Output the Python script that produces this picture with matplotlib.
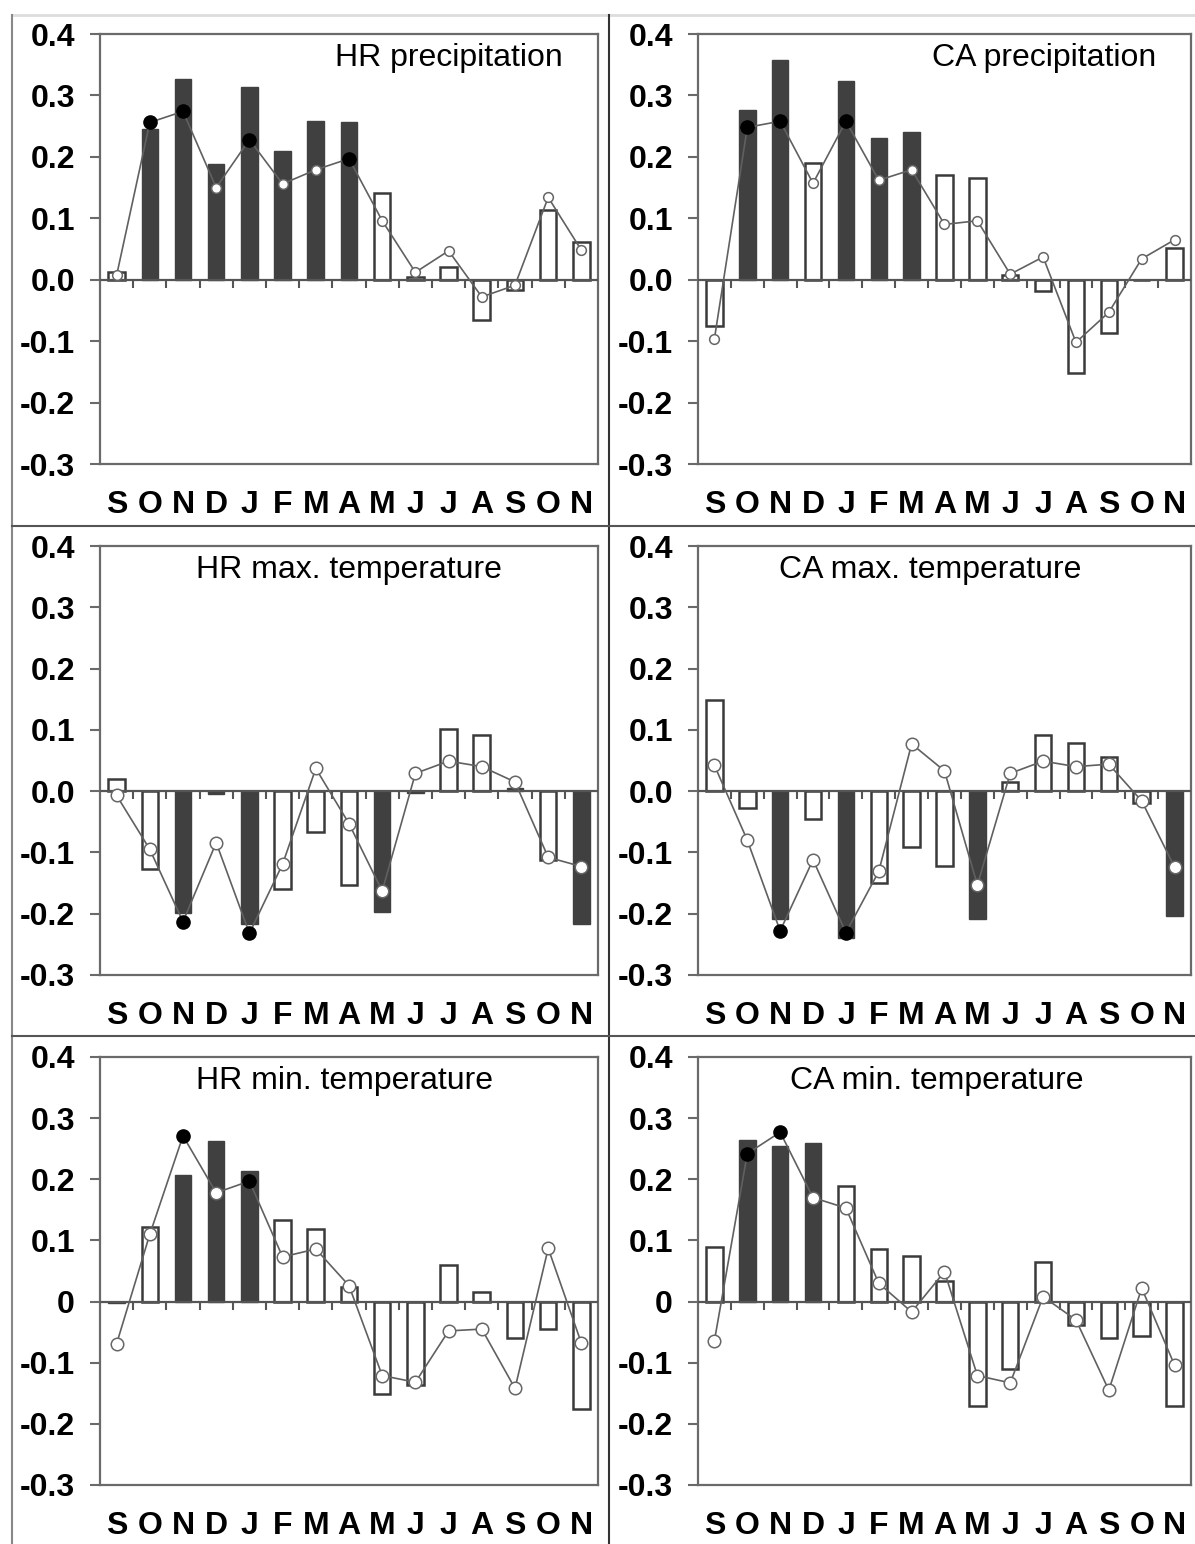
import numpy as np
import matplotlib
matplotlib.use('Agg')
import matplotlib.pyplot as plt
from matplotlib.lines import Line2D

plt.rcParams['font.family'] = ['Liberation Sans', 'DejaVu Sans']

months = ['S', 'O', 'N', 'D', 'J', 'F', 'M', 'A', 'M', 'J', 'J', 'A', 'S', 'O', 'N']

# bar values and line (circle) values per panel
hr_pre_bar = [0.012, 0.245, 0.327, 0.189, 0.314, 0.209, 0.258, 0.256, 0.141, 0.005, 0.021, -0.066, -0.017, 0.114, 0.061]
hr_pre_pt  = [0.007, 0.256, 0.274, 0.150, 0.228, 0.156, 0.179, 0.197, 0.096, 0.012, 0.047, -0.028, -0.009, 0.134, 0.048]
hr_pre_bar_sig = [0, 1, 1, 1, 1, 1, 1, 1, 0, 0, 0, 0, 0, 0, 0]
hr_pre_pt_sig  = [0, 1, 1, 0, 1, 0, 0, 1, 0, 0, 0, 0, 0, 0, 0]

ca_pre_bar = [-0.076, 0.277, 0.358, 0.190, 0.324, 0.231, 0.240, 0.171, 0.166, 0.008, -0.018, -0.152, -0.086, 0.0, 0.052]
ca_pre_pt  = [-0.096, 0.248, 0.258, 0.157, 0.258, 0.162, 0.179, 0.090, 0.096, 0.009, 0.037, -0.102, -0.053, 0.034, 0.065]
ca_pre_bar_sig = [0, 1, 1, 0, 1, 1, 1, 0, 0, 0, 0, 0, 0, 0, 0]
ca_pre_pt_sig  = [0, 1, 1, 0, 1, 0, 0, 0, 0, 0, 0, 0, 0, 0, 0]

hr_tmax_bar = [0.019, -0.127, -0.199, -0.004, -0.216, -0.160, -0.066, -0.153, -0.198, -0.003, 0.101, 0.092, 0.005, -0.112, -0.217]
hr_tmax_pt  = [-0.007, -0.095, -0.213, -0.084, -0.232, -0.119, 0.037, -0.053, -0.163, 0.029, 0.049, 0.040, 0.015, -0.108, -0.123]
hr_tmax_bar_sig = [0, 0, 1, 1, 1, 0, 0, 0, 1, 1, 0, 0, 1, 0, 1]
hr_tmax_pt_sig  = [0, 0, 1, 0, 1, 0, 0, 0, 0, 0, 0, 0, 0, 0, 0]

ca_tmax_bar = [0.149, -0.027, -0.208, -0.045, -0.240, -0.150, -0.091, -0.122, -0.208, 0.015, 0.092, 0.079, 0.056, -0.019, -0.203]
ca_tmax_pt  = [0.042, -0.080, -0.228, -0.112, -0.231, -0.131, 0.077, 0.033, -0.153, 0.029, 0.049, 0.040, 0.044, -0.016, -0.124]
ca_tmax_bar_sig = [0, 0, 1, 0, 1, 0, 0, 0, 1, 0, 0, 0, 0, 0, 1]
ca_tmax_pt_sig  = [0, 0, 1, 0, 1, 0, 0, 0, 0, 0, 0, 0, 0, 0, 0]

hr_tmin_bar = [-0.003, 0.122, 0.207, 0.262, 0.214, 0.134, 0.118, 0.024, -0.151, -0.137, 0.059, 0.016, -0.060, -0.045, -0.176]
hr_tmin_pt  = [-0.069, 0.110, 0.271, 0.178, 0.197, 0.073, 0.086, 0.026, -0.121, -0.132, -0.048, -0.045, -0.142, 0.087, -0.068]
hr_tmin_bar_sig = [1, 0, 1, 1, 1, 0, 0, 0, 0, 0, 0, 0, 0, 0, 0]
hr_tmin_pt_sig  = [0, 0, 1, 0, 1, 0, 0, 0, 0, 0, 0, 0, 0, 0, 0]

ca_tmin_bar = [0.090, 0.265, 0.254, 0.260, 0.189, 0.086, 0.075, 0.033, -0.171, -0.111, 0.065, -0.038, -0.060, -0.056, -0.171]
ca_tmin_pt  = [-0.064, 0.242, 0.277, 0.170, 0.153, 0.030, -0.017, 0.049, -0.121, -0.133, 0.008, -0.030, -0.145, 0.022, -0.104]
ca_tmin_bar_sig = [0, 1, 1, 1, 0, 0, 0, 0, 0, 0, 0, 0, 0, 0, 0]
ca_tmin_pt_sig  = [0, 1, 1, 0, 0, 0, 0, 0, 0, 0, 0, 0, 0, 0, 0]

titles = ['HR precipitation', 'CA precipitation',
          'HR max. temperature', 'CA max. temperature',
          'HR min. temperature', 'CA min. temperature']

panels = [
    (hr_pre_bar, hr_pre_bar_sig, hr_pre_pt, hr_pre_pt_sig),
    (ca_pre_bar, ca_pre_bar_sig, ca_pre_pt, ca_pre_pt_sig),
    (hr_tmax_bar, hr_tmax_bar_sig, hr_tmax_pt, hr_tmax_pt_sig),
    (ca_tmax_bar, ca_tmax_bar_sig, ca_tmax_pt, ca_tmax_pt_sig),
    (hr_tmin_bar, hr_tmin_bar_sig, hr_tmin_pt, hr_tmin_pt_sig),
    (ca_tmin_bar, ca_tmin_bar_sig, ca_tmin_pt, ca_tmin_pt_sig),
]

yticks = [0.4, 0.3, 0.2, 0.1, 0.0, -0.1, -0.2, -0.3]
ylabels_top = ['0.4', '0.3', '0.2', '0.1', '0.0', '-0.1', '-0.2', '-0.3']
ylabels_bot = ['0.4', '0.3', '0.2', '0.1', '0', '-0.1', '-0.2', '-0.3']

W, H = 1195, 1544
fig = plt.figure(figsize=(W / 100, H / 100), dpi=100)

# axes boxes in pixels: (left, right) per column, (top, bottom) per row
cols = [(100, 598), (698, 1191)]
rows = [(34, 464), (546, 975), (1057, 1485)]
# title placement (x in axes fraction, horizontal alignment)
title_pos = [(0.93, 'right'), (0.93, 'right'), (0.5, 'center'),
             (0.47, 'center'), (0.49, 'center'), (0.485, 'center')]

frame_col = '#6a6a6a'
dark = '#404040'
x = np.arange(len(months))

for i, (bars, bsig, pts, psig) in enumerate(panels):
    r, c = divmod(i, 2)
    l, rr = cols[c]
    t, b = rows[r]
    ax = fig.add_axes([l / W, 1 - b / H, (rr - l) / W, (b - t) / H])

    bars = np.array(bars)
    pts = np.array(pts)
    bsig = np.array(bsig, dtype=bool)
    psig = np.array(psig, dtype=bool)

    ax.bar(x[~bsig], bars[~bsig], width=0.5, color='white', edgecolor='#3a3a3a',
           linewidth=1.8, zorder=2)
    ax.bar(x[bsig], bars[bsig], width=0.5, color=dark, edgecolor=dark,
           linewidth=1.0, zorder=2)

    ax.axhline(0, color='#555555', lw=1.6, zorder=3)
    ax.vlines(np.arange(0.5, len(months) - 0.5), -0.013, 0, color='#555555',
              lw=1.5, zorder=3)

    ax.plot(x, pts, '-', color='#606060', lw=1.2, zorder=4)
    wsize = 7 if r == 0 else 9
    ax.plot(x[~psig], pts[~psig], 'o', ls='none', ms=wsize, mfc='white',
            mec='#666666', mew=1.1, zorder=5)
    ax.plot(x[psig], pts[psig], 'o', ls='none', ms=9.5, mfc='black',
            mec='black', zorder=6)

    ax.set_xlim(-0.5, len(months) - 0.5)
    ax.set_ylim(-0.3, 0.4)
    ax.set_yticks(yticks)
    ax.set_yticklabels(ylabels_bot if r == 2 else ylabels_top,
                       fontsize=23, fontweight='bold')
    ax.set_xticks(x)
    ax.set_xticklabels(months, fontsize=23, fontweight='bold')
    ax.tick_params(axis='x', length=0, pad=19)
    ax.tick_params(axis='y', direction='out', length=7, width=1.5,
                   color=frame_col, pad=11)
    for s in ax.spines.values():
        s.set_color(frame_col)
        s.set_linewidth(1.6)

    tx, ha = title_pos[i]
    ax.text(tx, 0.945, titles[i], transform=ax.transAxes, ha=ha, va='center',
            fontsize=23)

# panel border lines
def fline(x0, y0, x1, y1, color, lw):
    fig.add_artist(Line2D([x0 / W, x1 / W], [1 - y0 / H, 1 - y1 / H],
                          color=color, lw=lw))

fline(12, 15, W, 15, '#dddddd', 2)
fline(12, 15, 12, H, '#888888', 1.5)
fline(609, 15, 609, H, '#333333', 1.5)
fline(12, 526, W, 526, '#555555', 1.5)
fline(12, 1036, W, 1036, '#555555', 1.5)

plt.savefig('out.png', dpi=100)
